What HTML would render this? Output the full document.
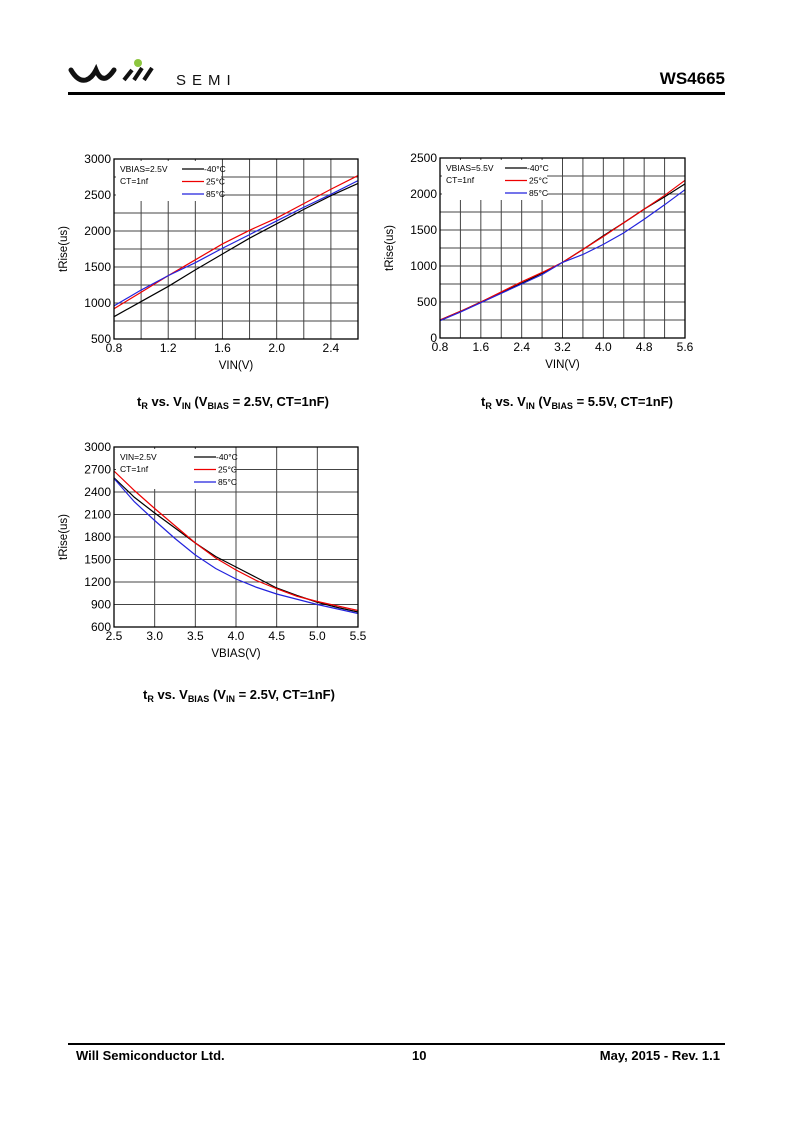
<!DOCTYPE html>
<html><head><meta charset="utf-8"><style>
body{margin:0;width:800px;height:1132px;background:#fff;position:relative;font-family:"Liberation Sans",Arial,sans-serif;overflow:hidden}
.abs{position:absolute}
.cap{position:absolute;font-weight:bold;font-size:13px;white-space:nowrap}
.cap sub{font-size:9px;vertical-align:-3px}
</style></head><body>
<div class="abs" style="left:68px;top:58px;width:190px;height:32px">
<svg width="190" height="32">
<path d="M3,12 Q10,24 18,22 Q24,20 28,12 Q32,22 38,20 Q42,18 46,12" stroke="#111" stroke-width="5" fill="none" stroke-linecap="round"/>
<line x1="56" y1="22" x2="64" y2="12" stroke="#111" stroke-width="4"/>
<line x1="66" y1="22" x2="74" y2="10" stroke="#111" stroke-width="4"/>
<line x1="76" y1="22" x2="84" y2="10" stroke="#111" stroke-width="4"/>
<circle cx="70" cy="5" r="4" fill="#8dc63f"/>
<text x="108" y="27" font-size="15" letter-spacing="6" font-family="Liberation Sans" fill="#111">SEMI</text>
</svg></div>
<div class="abs" style="right:75px;top:69px;font-weight:bold;font-size:17px">WS4665</div>
<div class="abs" style="left:68px;top:92px;width:657px;height:3px;background:#000"></div>
<svg class="abs" style="left:0;top:0" width="800" height="1132" id="charts"></svg>
<div class="cap" style="left:137px;top:394px">t<sub>R</sub> vs. V<sub>IN</sub> (V<sub>BIAS</sub> = 2.5V, CT=1nF)</div>
<div class="cap" style="left:481px;top:394px">t<sub>R</sub> vs. V<sub>IN</sub> (V<sub>BIAS</sub> = 5.5V, CT=1nF)</div>
<div class="cap" style="left:143px;top:687px">t<sub>R</sub> vs. V<sub>BIAS</sub> (V<sub>IN</sub> = 2.5V, CT=1nF)</div>
<div class="abs" style="left:68px;top:1043px;width:657px;height:2px;background:#000"></div>
<div class="abs" style="left:76px;top:1048px;font-weight:bold;font-size:13px">Will Semiconductor Ltd.</div>
<div class="abs" style="left:412px;top:1048px;font-weight:bold;font-size:13px">10</div>
<div class="abs" style="right:80px;top:1048px;font-weight:bold;font-size:13px">May, 2015 - Rev. 1.1</div>
<script>
const c1X=[0.8,1.0,1.2,1.4,1.6,1.8,2.0,2.2,2.4,2.6];
const c1M40=[810,1020,1230,1460,1680,1900,2100,2300,2490,2660];
const c1P25=[920,1150,1380,1600,1820,2010,2180,2380,2580,2770];
const c1P85=[960,1180,1380,1560,1760,1950,2140,2330,2510,2700];
const c1XT=["0.8","1.2","1.6","2.0","2.4"];
const c1YT=["500","1000","1500","2000","2500","3000"];
const c2X=[0.8,1.2,1.6,2.0,2.4,2.8,3.2,3.6,4.0,4.4,4.8,5.2,5.6];
const c2M40=[250,370,500,630,760,900,1050,1230,1420,1600,1790,1960,2140];
const c2P25=[250,370,500,640,780,910,1050,1230,1410,1600,1790,1980,2190];
const c2P85=[240,360,490,620,750,880,1050,1160,1300,1460,1650,1850,2060];
const c2XT=["0.8","1.6","2.4","3.2","4.0","4.8","5.6"];
const c2YT=["0","500","1000","1500","2000","2500"];
const c3X=[2.5,2.75,3.0,3.25,3.5,3.75,4.0,4.25,4.5,4.75,5.0,5.25,5.5];
const c3M40=[2590,2330,2120,1920,1720,1540,1400,1260,1120,1020,930,860,800];
const c3P25=[2680,2420,2180,1950,1720,1520,1360,1220,1110,1010,940,880,820];
const c3P85=[2580,2270,2020,1780,1560,1380,1240,1130,1040,970,900,840,780];
const c3XT=["2.5","3.0","3.5","4.0","4.5","5.0","5.5"];
const c3YT=["600","900","1200","1500","1800","2100","2400","2700","3000"];
const svg=document.getElementById('charts');const NS='http://www.w3.org/2000/svg';
function mk(t,a,p){const e=document.createElementNS(NS,t);for(const k in a)e.setAttribute(k,a[k]);(p||svg).appendChild(e);return e;}
function chart(id,L,T,W,H,x0,x1,nx,y0,y1,ny,xt,yt,X,series,xl,leg){
 const g=mk('g',{});
 
 
 const sx=v=>L+(v-x0)/(x1-x0)*W, sy=v=>T+H-(v-y0)/(y1-y0)*H;
 for(let i=1;i<nx;i++){const l=mk('line',{x1:L+i*W/nx,x2:L+i*W/nx,y1:T,y2:T+H,stroke:'#444','stroke-width':1},g);}
 for(let i=1;i<ny;i++){const l=mk('line',{y1:T+i*H/ny,y2:T+i*H/ny,x1:L,x2:L+W,stroke:'#444','stroke-width':1},g);}
 const lg=mk('rect',{x:L+2,y:T+2,width:leg.w,height:40,fill:'#fff'},g);
 xt.forEach(s=>{const t=mk('text',{x:sx(+s),y:T+H+13,'font-size':12,'text-anchor':'middle'},g);t.textContent=s;});
 yt.forEach(s=>{const t=mk('text',{x:L-3,y:sy(+s)+4,'font-size':12,'text-anchor':'end'},g);t.textContent=s;});
 let t=mk('text',{x:L+W/2,y:T+H+30,'font-size':11.5,'text-anchor':'middle'},g);t.textContent=xl;
 t=mk('text',{x:0,y:0,'font-size':11.5,'text-anchor':'middle',transform:`translate(${L-47},${T+H/2}) rotate(-90)`},g);t.textContent='tRise(us)';
 series.forEach(s=>{const p=mk('polyline',{points:X.map((x,i)=>sx(x)+','+sy(s.v[i])).join(' '),fill:'none',stroke:s.c,'stroke-width':1.2},g);});
 const r=mk('rect',{x:L,y:T,width:W,height:H,fill:'none',stroke:'#000','stroke-width':1.3},g);
 t=mk('text',{x:L+6,y:T+13,'font-size':8.5},g);t.textContent=leg.a;
 t=mk('text',{x:L+6,y:T+25,'font-size':8.5},g);t.textContent='CT=1nf';
 series.forEach((s,i)=>{const y=T+10+i*12.5;const l=mk('line',{x1:L+leg.lx,x2:L+leg.lx+22,y1:y,y2:y,stroke:s.c,'stroke-width':1.2},g);
  const tt=mk('text',{x:L+leg.lx+(i==0?22:24),y:y+3,'font-size':8.5},g);tt.textContent=s.n+'°C';});
}
chart('chart-vin-vbias-2v5',114,159,244,180,0.8,2.6,9,500,3000,10,c1XT,c1YT,c1X,[{n:'-40',c:'#000',v:c1M40},{n:'25',c:'#e00',v:c1P25},{n:'85',c:'#22d',v:c1P85}],'VIN(V)',{a:'VBIAS=2.5V',lx:68,w:105});
chart('chart-vin-vbias-5v5',440,158,245,180,0.8,5.6,12,0,2500,10,c2XT,c2YT,c2X,[{n:'-40',c:'#000',v:c2M40},{n:'25',c:'#e00',v:c2P25},{n:'85',c:'#22d',v:c2P85}],'VIN(V)',{a:'VBIAS=5.5V',lx:65,w:105});
chart('chart-vbias',114,447,244,180,2.5,5.5,6,600,3000,8,c3XT,c3YT,c3X,[{n:'-40',c:'#000',v:c3M40},{n:'25',c:'#e00',v:c3P25},{n:'85',c:'#22d',v:c3P85}],'VBIAS(V)',{a:'VIN=2.5V',lx:80,w:118});
</script>
</body></html>
